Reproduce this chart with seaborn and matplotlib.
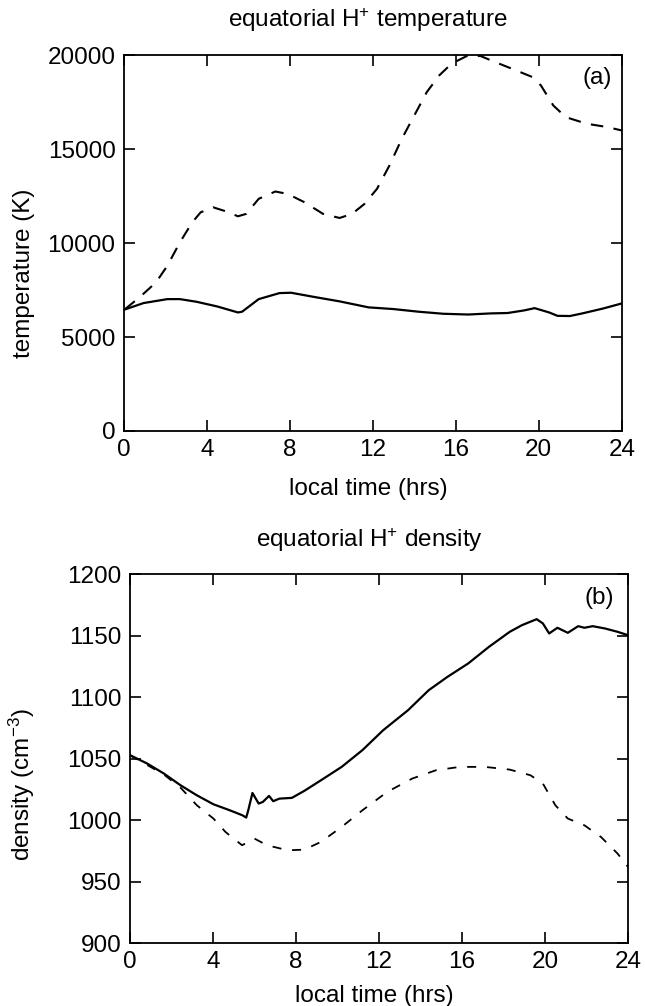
import numpy as np
import pandas as pd
import matplotlib
matplotlib.use("Agg")
import matplotlib.pyplot as plt
import seaborn as sns

# ---------------- data ----------------
temp_solid_hr = [0, 0.95, 2.1, 2.7, 3.5, 4.5, 5.5, 5.7, 6.5, 7.5, 8.06, 9.05, 10.4, 11.8,
                 13.0, 14.2, 15.4, 16.6, 17.7, 18.5, 19.3, 19.8, 20.5, 20.9, 21.5, 22.1, 23.1, 24.0]
temp_solid_K = [6450, 6810, 7020, 7020, 6880, 6630, 6310, 6350, 7020, 7340, 7360, 7160, 6900, 6580,
                6490, 6350, 6240, 6200, 6260, 6280, 6420, 6540, 6310, 6130, 6120, 6260, 6520, 6790]

temp_dash_hr = [0.06, 0.75, 1.55, 2.1, 2.7, 3.3, 3.7, 4.3, 4.9, 5.5, 5.9, 6.5, 7.3, 7.9, 8.7, 9.6,
                10.4, 11.0, 11.6, 12.2, 12.8, 13.4, 14.0, 14.6, 15.2, 15.8, 16.6, 17.2, 17.9, 18.9,
                19.7, 20.1, 20.7, 21.3, 22.3, 23.3, 24.0]
temp_dash_K = [6490, 7110, 7910, 8800, 10040, 11110, 11640, 11910, 11700, 11430, 11560, 12360, 12750,
               12620, 12180, 11560, 11340, 11560, 12090, 12890, 14130, 15560, 16800, 18040, 18930,
               19560, 20000, 19960, 19640, 19200, 18840, 18400, 17330, 16710, 16360, 16180, 16000]

dens_solid_hr = [0, 0.83, 1.63, 2.43, 3.22, 4.02, 4.81, 5.41, 5.6, 5.7, 5.9, 6.2, 6.4, 6.7, 6.9, 7.2,
                 7.8, 8.4, 9.2, 10.2, 11.2, 12.2, 13.4, 14.4, 15.3, 16.3, 17.3, 18.3, 18.9, 19.6, 19.9,
                 20.2, 20.6, 21.1, 21.6, 21.9, 22.3, 22.9, 23.5, 24.0]
dens_solid = [1052.7, 1045.9, 1037.8, 1028.3, 1020.1, 1012.8, 1007.9, 1003.9, 1002.0, 1008.0, 1022.0,
              1013.4, 1014.7, 1019.6, 1015.3, 1017.4, 1018.0, 1023.7, 1032.3, 1043.2, 1056.8, 1073.0,
              1089.3, 1105.6, 1116.4, 1127.3, 1140.8, 1153.0, 1158.5, 1163.3, 1159.8, 1151.7, 1156.3,
              1152.2, 1157.6, 1156.3, 1157.6, 1155.7, 1153.0, 1150.3]

dens_dash_hr = [0, 1.63, 2.43, 3.22, 4.02, 4.6, 5.4, 6.0, 6.6, 7.6, 8.4, 9.2, 10.2, 11.2, 12.4, 13.6,
                14.75, 15.9, 17.1, 18.3, 19.3, 19.9, 20.5, 21.1, 21.9, 22.7, 23.5, 24.0]
dens_dash = [1052.7, 1037.0, 1026.4, 1012.0, 1001.2, 990.3, 979.5, 984.9, 979.5, 975.4, 975.9, 982.2,
             994.4, 1007.9, 1022.9, 1033.7, 1040.5, 1043.2, 1043.2, 1041.0, 1036.4, 1029.6, 1012.0,
             1001.2, 995.7, 986.2, 972.7, 961.8]

x_ticks = [0, 4, 8, 12, 16, 20, 24]
temp_ticks = [0, 5000, 10000, 15000, 20000]
dens_ticks = [900, 950, 1000, 1050, 1100, 1150, 1200]

# ---------------- style ----------------
sns.set_style("ticks")
plt.rcParams["font.family"] = ["Liberation Sans", "DejaVu Sans"]
plt.rcParams["mathtext.fontset"] = "custom"
plt.rcParams["mathtext.rm"] = "Liberation Sans"
plt.rcParams["mathtext.it"] = "Liberation Sans:italic"
plt.rcParams["text.color"] = "black"
plt.rcParams["axes.labelcolor"] = "black"
FS = 17.5

fig = plt.figure(figsize=(6.45, 10.06), dpi=100)
ax1 = fig.add_axes([0.192, 0.5716, 0.772, 0.3734])
ax2 = fig.add_axes([0.2016, 0.0626, 0.772, 0.3668])

t_solid = pd.DataFrame({"hr": temp_solid_hr, "val": temp_solid_K})
t_dash = pd.DataFrame({"hr": temp_dash_hr, "val": temp_dash_K})
d_solid = pd.DataFrame({"hr": dens_solid_hr, "val": dens_solid})
d_dash = pd.DataFrame({"hr": dens_dash_hr, "val": dens_dash})

sns.lineplot(data=t_solid, x="hr", y="val", ax=ax1, color="black", lw=1.6, sort=False)
sns.lineplot(data=t_dash, x="hr", y="val", ax=ax1, color="black", lw=1.5, sort=False,
             dashes=False, linestyle=(0, (6, 5)))
sns.lineplot(data=d_solid, x="hr", y="val", ax=ax2, color="black", lw=1.6, sort=False)
sns.lineplot(data=d_dash, x="hr", y="val", ax=ax2, color="black", lw=1.3, sort=False,
             dashes=False, linestyle=(0, (5, 6)))

for ax, yt, ylim in [(ax1, temp_ticks, (0, 20000)), (ax2, dens_ticks, (900, 1200))]:
    ax.set_xlim(0, 24)
    ax.set_ylim(*ylim)
    ax.set_xticks(x_ticks)
    ax.set_yticks(yt)
    ax.tick_params(direction="in", length=8, width=1.2, top=True, right=True,
                   labelsize=FS, pad=6, colors="black")
    for s in ax.spines.values():
        s.set_linewidth(1.3)
        s.set_color("black")
    ax.set_xlabel("local time (hrs)", fontsize=FS)

ax1.set_ylabel("temperature (K)", fontsize=FS)
ax2.set_ylabel("density (cm$^{-3}$)", fontsize=FS)
ax1.yaxis.set_label_coords(-0.179, 0.42)
ax2.yaxis.set_label_coords(-0.187, 0.43)
ax1.xaxis.set_label_coords(0.49, -0.125)
ax2.xaxis.set_label_coords(0.49, -0.114)

ax1.text(0.49, 1.093, "equatorial H$^{+}$ temperature", transform=ax1.transAxes,
         ha="center", va="center", fontsize=FS)
ax2.text(0.48, 1.093, "equatorial H$^{+}$ density", transform=ax2.transAxes,
         ha="center", va="center", fontsize=FS)
ax1.text(0.95, 0.939, "(a)", transform=ax1.transAxes, ha="center", va="center", fontsize=FS)
ax2.text(0.942, 0.934, "(b)", transform=ax2.transAxes, ha="center", va="center", fontsize=FS)

fig.savefig("out.png", dpi=100, facecolor="white")
